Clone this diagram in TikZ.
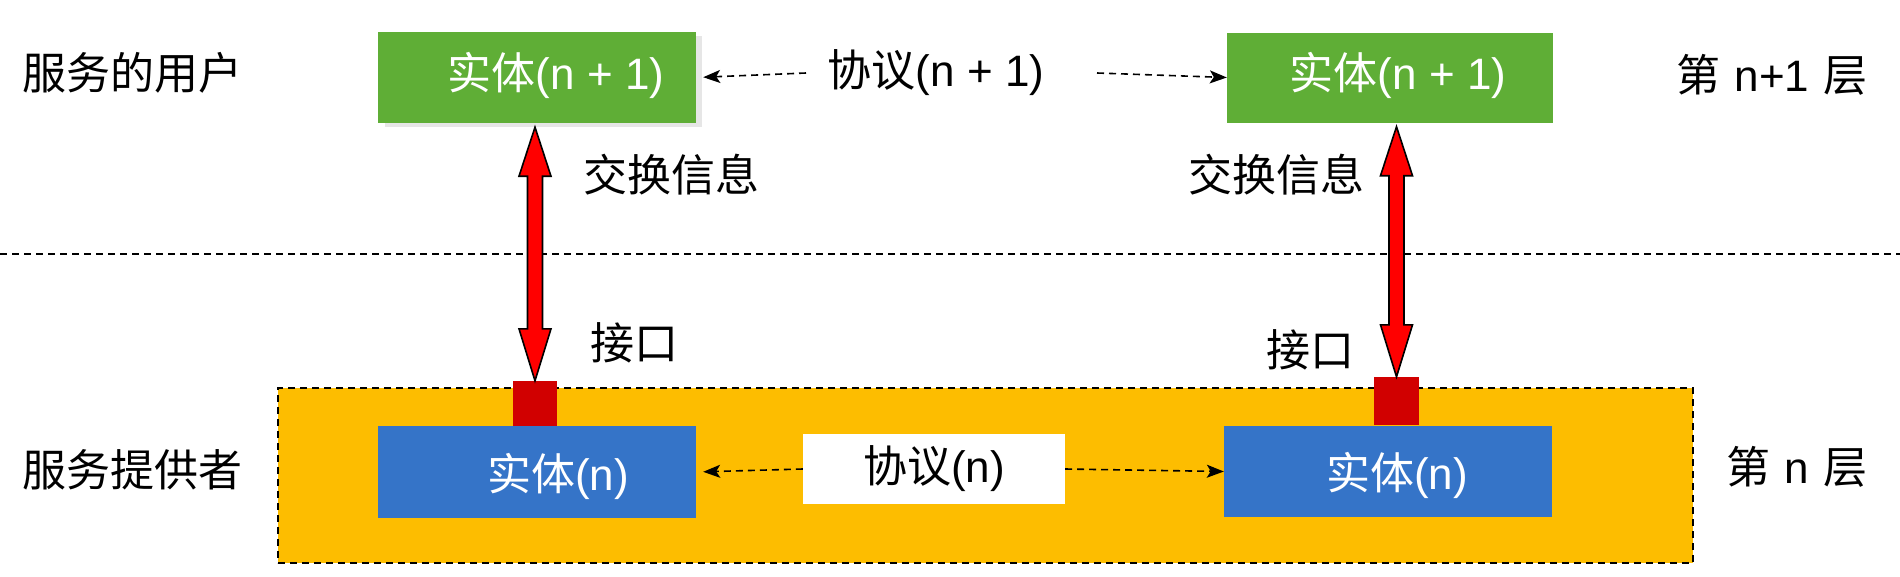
\documentclass[tikz,border=0pt]{standalone}
\usepackage{fontspec}
\setmainfont{Liberation Sans}
\newfontfamily\cjk{Noto Sans CJK SC}
\usetikzlibrary{arrows.meta,calc,backgrounds}
\definecolor{gbox}{HTML}{5FAE36}
\definecolor{bbox}{HTML}{3574C8}
\definecolor{obox}{HTML}{FDBD00}
\definecolor{rsq}{HTML}{D10000}
\definecolor{shadowc}{HTML}{E6E6E6}
\tikzset{
  bigfont/.style={font=\fontsize{44pt}{52pt}\selectfont},
  boxfont/.style={font=\fontsize{44pt}{52pt}\selectfont, text=white},
  plainbox/.style={rectangle, inner sep=0pt, draw=none},
  lbl/.style={bigfont, inner sep=0pt, text=black},
  proto/.style={line width=1.6pt, dash pattern=on 7pt off 5pt, -{Stealth[length=17pt,width=13pt,inset=4pt]}},
  sepline/.style={line width=2pt, dash pattern=on 7pt off 5pt},
  redarrow/.style={fill=red, draw=black, line width=1.6pt, line join=miter},
}
\begin{document}
\begin{tikzpicture}[x=1pt,y=-1pt]
\useasboundingbox (0,0) rectangle (1900,576);

% separator
\coordinate (hl) at (0,254);
\coordinate (hr) at (1900,254);
\draw[sepline] (hl) -- (hr);

% lower layer container
\node[plainbox, fill=obox, draw=black, line width=2pt, dash pattern=on 7pt off 5pt,
      minimum width=1415pt, minimum height=175pt] (ob) at (985.5,475.5) {};

% red interface squares
\node[plainbox, fill=rsq, minimum width=44pt, minimum height=45pt] (r1) at (535,403.5) {};
\node[plainbox, fill=rsq, minimum width=45pt, minimum height=48pt] (r2) at (1396.5,401) {};

% boxes
\node[plainbox, fill=gbox, minimum width=318pt, minimum height=91pt] (g1) at (537,77.5) {};
\node[plainbox, fill=gbox, minimum width=326pt, minimum height=90pt] (g2) at (1390,77.5) {};
\node[plainbox, fill=bbox, minimum width=318pt, minimum height=92pt] (b1) at (537,472) {};
\node[plainbox, fill=bbox, minimum width=328pt, minimum height=91pt] (b2) at (1388,471.5) {};
\begin{scope}[on background layer]
  \fill[shadowc] ($(g1.south west)+(7,4)$) rectangle ($(g1.north east)+(6,4)$);
\end{scope}

% box texts
\node[boxfont, inner sep=0pt] (g1t) at ([xshift=19pt,yshift=2pt]g1.center) {{\cjk 实体}(n + 1)};
\node[boxfont, inner sep=0pt] (g2t) at ([xshift=8pt,yshift=2pt]g2.center) {{\cjk 实体}(n + 1)};
\node[boxfont, inner sep=0pt] (b1t) at ([xshift=21pt,yshift=-4pt]b1.center) {{\cjk 实体}(n)};
\node[boxfont, inner sep=0pt] (b2t) at ([xshift=9pt,yshift=-4pt]b2.center) {{\cjk 实体}(n)};

% protocol labels
\node[lbl] (p1) at (936,73) {{\cjk 协议}(n + 1)};
\node[plainbox, fill=white, minimum width=262pt, minimum height=70pt, bigfont] (pn) at (934,469) {{\cjk 协议}(n)};

% protocol arrows
\coordinate (p1l) at (806,73);
\coordinate (p1r) at (1097,73);
\draw[proto, shorten >=7pt] (p1l) -- (g1.east);
\draw[proto] (p1r) -- (g2.west);
\draw[proto, shorten >=7pt] (pn.west) -- (b1.east);
\draw[proto] (pn.east) -- (b2.west);

% side labels
\node[lbl] (u1) at (132,73) {\cjk 服务的用户};
\node[lbl] (u2) at (132,470) {\cjk 服务提供者};
\node[lbl] (l1) at (1772,75) {{\cjk 第}\hspace{14pt}n+1\hspace{14pt}{\cjk 层}};
\node[lbl] (l2) at (1797,467) {{\cjk 第}\hspace{14pt}n\hspace{14pt}{\cjk 层}};

% exchange / interface labels
\node[lbl] (e1) at (671,175) {\cjk 交换信息};
\node[lbl] (e2) at (1276,175) {\cjk 交换信息};
\node[lbl] (i1) at (634,343) {\cjk 接口};
\node[lbl] (i2) at (1310,350) {\cjk 接口};

% red double arrows
\draw[redarrow] let \p1=($(g1.south)+(0,4)$), \p2=(r1.north) in
  (\x2,\y1) -- (\x2+16pt,\y1-49pt) -- (\x2+7.5pt,\y1-49pt) -- (\x2+7.5pt,\y2+52pt)
  -- (\x2+16pt,\y2+52pt) -- (\x2,\y2) -- (\x2-16pt,\y2+52pt) -- (\x2-7.5pt,\y2+52pt)
  -- (\x2-7.5pt,\y1-49pt) -- (\x2-16pt,\y1-49pt) -- cycle;
\draw[redarrow] let \p1=($(g2.south)+(0,4)$), \p2=(r2.north) in
  (\x2,\y1) -- (\x2+16pt,\y1-49pt) -- (\x2+7.5pt,\y1-49pt) -- (\x2+7.5pt,\y2+52pt)
  -- (\x2+16pt,\y2+52pt) -- (\x2,\y2) -- (\x2-16pt,\y2+52pt) -- (\x2-7.5pt,\y2+52pt)
  -- (\x2-7.5pt,\y1-49pt) -- (\x2-16pt,\y1-49pt) -- cycle;
\end{tikzpicture}
\end{document}
